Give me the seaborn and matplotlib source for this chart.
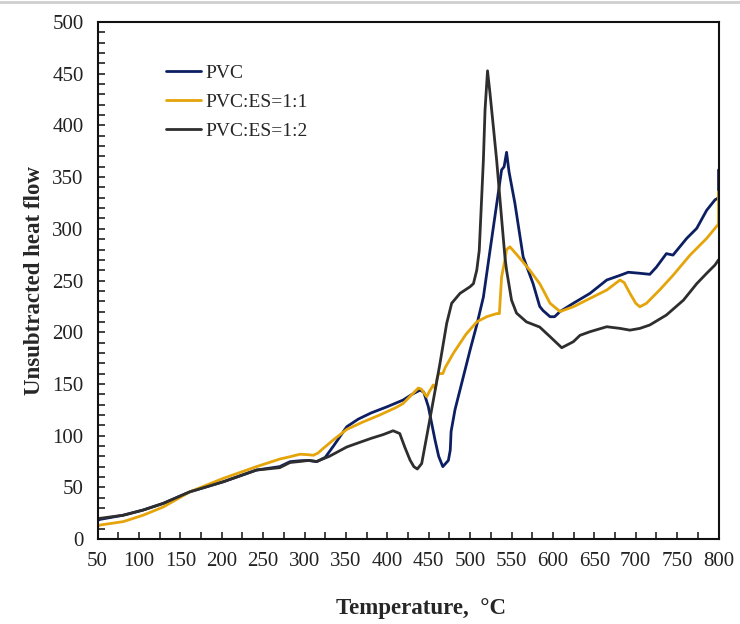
import matplotlib
matplotlib.use("Agg")
import matplotlib.pyplot as plt
from matplotlib.lines import Line2D
from matplotlib.ticker import MultipleLocator
import numpy as np
import pandas as pd
import seaborn as sns

# Temperature (°C) and unsubtracted heat flow for each sample
pvc_t = [50, 53, 81, 105, 129.5, 161.7, 202, 242, 270, 282.5, 294.5, 305, 314.7, 325, 335,
         351, 365, 380.6, 400, 419, 430, 439.5, 444, 449.5, 457.6, 462, 467, 473.7, 476,
         477, 481.7, 491.8, 500, 508, 516, 524, 531, 538, 541, 544, 547, 554, 564, 576,
         584, 588, 596.5, 602, 608.6, 624.6, 644.8, 665, 681, 691, 705, 717, 725, 737,
         745, 761.6, 773.7, 785.7, 795.7, 800, 800]
pvc_q = [18, 19, 23, 28, 34.5, 45.7, 55.4, 66.7, 70, 74.8, 75.7, 76, 74.8, 79, 90,
         108.6, 116, 122, 128, 134.4, 140, 144, 142, 128, 95.7, 80, 70, 76, 86,
         104, 125, 157, 183, 207, 234, 279, 318, 357, 360, 374, 355, 325, 273, 247,
         225, 221, 215, 215, 220, 228, 237.6, 250.5, 255, 258, 257, 256, 263, 276,
         274.6, 290.8, 300.5, 318, 328, 330, 357]

es11_t = [50, 53, 81, 105, 129.5, 161.7, 202, 242, 270.4, 282.5, 294.5, 305, 310.6, 316,
          322.7, 335, 351, 370, 391, 410, 419, 430, 437.4, 441, 447.6, 451, 455.5, 458,
          460, 462, 467, 470, 480, 495, 508, 520, 532, 535.3, 538, 542, 544, 548, 552,
          560, 572, 584, 590, 596.5, 608.6, 624.6, 644.8, 665, 681, 686, 693, 700, 705,
          713, 729, 745, 765.6, 785.7, 799, 800, 800]
es11_q = [12, 13.5, 16.8, 23, 31, 45.7, 58.7, 70, 77.4, 79.6, 82, 81.5, 81, 83,
          87.7, 96, 106, 113, 120, 127, 131, 140, 146, 145, 137.6, 143, 149, 145,
          155, 160, 160, 166, 180, 198, 210, 215, 218, 218, 253.6, 270, 280, 282.6, 279,
          271.6, 260, 247, 238, 228, 220, 224.6, 232.7, 240.8, 250.5, 248, 237.6, 228, 224.6,
          228, 241, 255, 274.6, 290.8, 303.7, 305, 336]

es12_t = [50, 53, 81, 105, 129.5, 161.7, 202, 242, 270, 282.5, 294.5, 305, 314.7, 330,
          351, 365, 380.6, 395, 407, 415, 421, 427.4, 432, 436.2, 441.5, 447.5, 455.6,
          463.6, 471.7, 477.7, 487.8, 499.9, 504, 508, 511, 516, 518, 521, 524, 528,
          532, 538, 542, 544, 550, 556, 568, 584, 596.5, 610.6, 624.6, 632.7, 644.8, 665,
          681, 693, 705, 717, 737, 757.6, 773.7, 785.7, 795.7, 800]
es12_q = [19, 20, 23, 28, 34.5, 45.7, 55.4, 66.7, 69, 74, 75, 76, 75, 80,
          89, 93, 97.4, 101, 104.7, 102, 89, 76.4, 70, 67.7, 73, 99, 134.4,
          170, 208.6, 228, 237.6, 244, 247, 260, 279, 366.5, 415, 452.8, 431, 399,
          366.5, 310, 273, 260, 231, 218.5, 210, 205, 195.7, 185, 190.8, 197, 200.5, 205.3,
          203.7, 202, 203.7, 207, 216.6, 231, 247, 257, 265, 270]

series_names = ["PVC", "PVC:ES=1:1", "PVC:ES=1:2"]
series_colors = ["#0d1f63", "#e5a50a", "#2e2e2e"]

frames = []
for name, t, q in zip(series_names, [pvc_t, es11_t, es12_t], [pvc_q, es11_q, es12_q]):
    frames.append(pd.DataFrame({"Temperature": t, "Heat flow": q, "Sample": name}))
data = pd.concat(frames, ignore_index=True)

sns.set_style("ticks")
plt.rcParams["font.family"] = ["Liberation Serif", "DejaVu Serif"]

fig = plt.figure(figsize=(7.4, 6.24), dpi=100)
ax = fig.add_axes([0.1318, 0.1362, 0.8392, 0.8285])

sns.lineplot(data=data, x="Temperature", y="Heat flow", hue="Sample",
             hue_order=series_names, palette=dict(zip(series_names, series_colors)),
             sort=False, estimator=None, units="Sample", linewidth=2.0, ax=ax)

ax.set_xlim(50, 800)
ax.set_ylim(0, 500)
ax.xaxis.set_major_locator(MultipleLocator(50))
ax.xaxis.set_minor_locator(MultipleLocator(25))
ax.yaxis.set_major_locator(MultipleLocator(50))
ax.yaxis.set_minor_locator(MultipleLocator(10))
ax.tick_params(axis="both", which="both", direction="in", length=5, width=1.2,
               color="#222222", top=False, right=False, labelsize=15, labelcolor="#222222")
ax.tick_params(axis="x", pad=9)
ax.tick_params(axis="y", pad=10)
for sp in ax.spines.values():
    sp.set_linewidth(1.5)
    sp.set_color("#111111")

ax.set_xlabel("Temperature,  °C", fontsize=16.5, fontweight="bold", labelpad=20)
ax.set_ylabel("Unsubtracted heat flow", fontsize=16.5, fontweight="bold", labelpad=5)
ax.xaxis.label.set_x(0.521)

leg = ax.legend(loc="upper left", bbox_to_anchor=(0.098, 0.933), frameon=False,
                fontsize=14, handlelength=1.8, handletextpad=0.2, labelspacing=0.58,
                borderaxespad=0)
for h in leg.get_lines():
    h.set_linewidth(2.0)

# thin grey rule along the top edge of the figure
fig.add_artist(Line2D([0, 1], [0.996, 0.996], transform=fig.transFigure,
                      color="#cfcfcf", linewidth=2))

fig.savefig("out.png", dpi=100)
